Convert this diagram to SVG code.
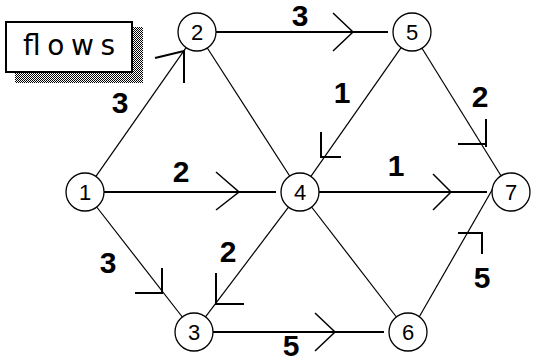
<svg xmlns="http://www.w3.org/2000/svg" width="533" height="363" viewBox="0 0 533 363">
<defs>
<pattern id="stip" x="0" y="0" width="2" height="2" patternUnits="userSpaceOnUse">
<rect x="0" y="0" width="1" height="1" fill="#000"/>
<rect x="1" y="1" width="1" height="1" fill="#000"/>
</pattern>
</defs>
<style>
.node circle{fill:#fff;stroke:#000;stroke-width:1.3}
.node text{font-family:"Liberation Sans",Arial,sans-serif;font-size:22px;text-anchor:middle;fill:#000}
.h{stroke:#000;stroke-width:2;fill:none}
.d{stroke:#000;stroke-width:1.2;fill:none}
.ah{stroke:#000;stroke-width:1.5;fill:none}
.ad{stroke:#000;stroke-width:2;fill:none}
.lbl{font-family:"Liberation Sans",Arial,sans-serif;font-size:30px;font-weight:bold;text-anchor:middle;fill:#000}
</style>
<rect width="533" height="363" fill="#fff"/>
<g id="legend">
<path d="M132 27H143V83H15V72H132Z" fill="url(#stip)"/>
<rect x="6" y="22" width="126" height="50" fill="#fff" stroke="#000" stroke-width="2"/>
<text x="69" y="55" font-family="'DejaVu Sans','Liberation Sans',sans-serif" font-size="28" text-anchor="middle" textLength="92" lengthAdjust="spacing">flows</text>
</g>
<g id="connectors">
<line class="h" x1="104" y1="192" x2="276" y2="192"/>
<line class="h" x1="216" y1="32" x2="388" y2="32"/>
<line class="h" x1="319" y1="192" x2="487" y2="192"/>
<line class="h" x1="213" y1="332" x2="384" y2="332"/>
<line class="d" x1="95.9" y1="176.4" x2="186.1" y2="47.6"/>
<line class="d" x1="96.7" y1="207" x2="182.3" y2="317"/>
<line class="d" x1="207.3" y1="48" x2="289.7" y2="176"/>
<line class="d" x1="401.1" y1="47.6" x2="310.9" y2="176.4"/>
<line class="d" x1="422" y1="48.2" x2="501" y2="175.8"/>
<line class="d" x1="288.5" y1="207.1" x2="205.5" y2="316.9"/>
<line class="d" x1="311.6" y1="207" x2="396.4" y2="317"/>
<line class="d" x1="419.3" y1="316.7" x2="499.7" y2="176.7"/>
<polyline class="ah" points="333,13 353,32 333,51"/>
<polyline class="ah" points="216,172 239,192 216,210"/>
<polyline class="ah" points="433,174 451,192 433,210"/>
<polyline class="ah" points="315,313 335,332 315,351"/>
<polyline class="ad" points="155,58 184,51 184,83"/>
<polyline class="ad" points="135,293 162,293 162,268"/>
<polyline class="ad" points="216,273 216,304 244,304"/>
<polyline class="ad" points="321,132 321,157 341,157"/>
<polyline class="ad" points="458,144 485,144"/>
<line class="ad" x1="486" y1="119" x2="486" y2="147"/>
<polyline class="ad" points="458,233 482,233 482,254"/>
</g>
<g id="labels">
<text class="lbl" x="120" y="113">3</text>
<text class="lbl" x="300" y="26">3</text>
<text class="lbl" x="342" y="103">1</text>
<text class="lbl" x="480" y="107">2</text>
<text class="lbl" x="181" y="182">2</text>
<text class="lbl" x="396" y="176">1</text>
<text class="lbl" x="108" y="273">3</text>
<text class="lbl" x="228" y="262">2</text>
<text class="lbl" x="291" y="356">5</text>
<text class="lbl" x="482" y="288">5</text>
</g>
<g id="n1" class="node"><circle cx="85" cy="192" r="19"/><text x="85" y="200">1</text></g>
<g id="n2" class="node"><circle cx="197" cy="32" r="19"/><text x="197" y="40">2</text></g>
<g id="n3" class="node"><circle cx="194" cy="332" r="19"/><text x="194" y="340">3</text></g>
<g id="n4" class="node"><circle cx="300" cy="192" r="19"/><text x="300" y="200">4</text></g>
<g id="n5" class="node"><circle cx="412" cy="32" r="19"/><text x="412" y="40">5</text></g>
<g id="n6" class="node"><circle cx="408" cy="332" r="19"/><text x="408" y="340">6</text></g>
<g id="n7" class="node"><circle cx="511" cy="192" r="19"/><text x="511" y="200">7</text></g>
</svg>
